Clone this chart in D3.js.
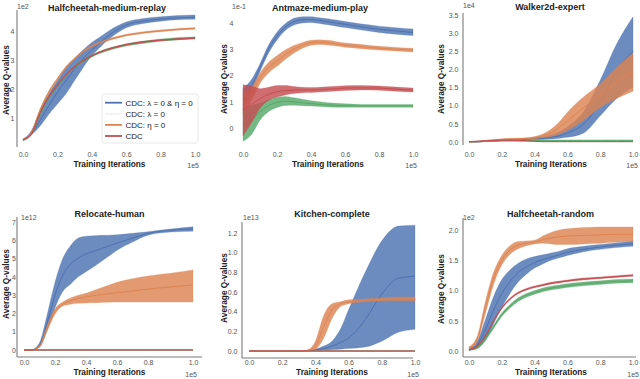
<!DOCTYPE html>
<html><head><meta charset="utf-8">
<script src="https://cdn.jsdelivr.net/npm/d3@7"></script>
<style>body{margin:0;background:#fff} svg{display:block} text{font-family:"Liberation Sans",Arial,Helvetica,sans-serif}</style>
</head><body><svg id="c" width="640" height="379"></svg>
<script>
// ---------------- DATA ----------------
const titles = ["Halfcheetah-medium-replay","Antmaze-medium-play","Walker2d-expert","Relocate-human","Kitchen-complete","Halfcheetah-random"];
const seriesNames = ["CDC: λ = 0 & η = 0","CDC: λ = 0","CDC: η = 0","CDC"];
const offsetLabels = ["1e2","1e-1","1e4","1e12","1e13","1e2"];
const xExpLabel = "1e5";
const xLabel = "Training Iterations";
const yLabel = "Average Q-values";
const xTicks = [0,0.2,0.4,0.6,0.8,1.0];
const yTicks1 = [1,2,3,4];
const yTicks2 = [0,1,2,3,4];
const yTicks3 = [0,0.5,1,1.5,2,2.5,3,3.5];
const yTicks4 = [0,1,2,3,4,5,6,7];
const yTicks5 = [0,0.2,0.4,0.6,0.8,1.0,1.2];
const yTicks6 = [0,0.5,1,1.5,2];

const xs = [0,0.05,0.1,0.15,0.2,0.25,0.3,0.35,0.4,0.45,0.5,0.55,0.6,0.7,0.8,0.9,1.0];

// Panel 1: Halfcheetah-medium-replay (x1e2)
const p1BlueMean = [0.28,0.5,0.95,1.45,1.9,2.3,2.7,3.05,3.35,3.6,3.85,4.05,4.2,4.33,4.4,4.44,4.46];
const p1BlueLo   = [0.25,0.45,0.75,1.15,1.5,1.85,2.3,2.75,3.15,3.45,3.72,3.93,4.1,4.25,4.33,4.38,4.39];
const p1BlueHi   = [0.31,0.6,1.3,1.85,2.3,2.75,3.05,3.35,3.6,3.8,4.0,4.17,4.3,4.42,4.48,4.52,4.54];
const p1GreenMean= [0.27,0.48,1.15,1.72,2.13,2.48,2.77,2.97,3.14,3.27,3.37,3.45,3.52,3.61,3.68,3.73,3.76];
const p1GreenLo  = [0.25,0.45,1.11,1.68,2.09,2.44,2.73,2.93,3.1,3.23,3.33,3.41,3.48,3.57,3.64,3.69,3.72];
const p1GreenHi  = [0.29,0.51,1.19,1.76,2.17,2.52,2.81,3.01,3.18,3.31,3.41,3.49,3.56,3.65,3.72,3.77,3.8];
const p1OrangeMean=[0.28,0.55,1.3,1.9,2.35,2.75,3.05,3.3,3.48,3.6,3.7,3.78,3.85,3.94,4.0,4.05,4.08];
const p1OrangeLo = [0.26,0.52,1.25,1.85,2.31,2.71,3.02,3.27,3.45,3.57,3.67,3.75,3.82,3.91,3.97,4.02,4.05];
const p1OrangeHi = [0.3,0.58,1.35,1.95,2.39,2.79,3.08,3.33,3.51,3.63,3.73,3.81,3.88,3.97,4.03,4.08,4.11];
const p1RedMean  = [0.28,0.5,1.2,1.75,2.15,2.5,2.78,2.98,3.15,3.28,3.38,3.46,3.53,3.62,3.68,3.72,3.75];
const p1RedLo    = [0.27,0.48,1.17,1.72,2.12,2.48,2.76,2.96,3.13,3.26,3.36,3.44,3.51,3.6,3.66,3.7,3.73];
const p1RedHi    = [0.29,0.52,1.23,1.78,2.18,2.52,2.8,3.0,3.17,3.3,3.4,3.48,3.55,3.64,3.7,3.74,3.77];

// Panel 2: Antmaze-medium-play (x1e-1)
const p2BlueMean = [1.1,1.6,2.3,3.0,3.5,3.85,4.05,4.12,4.13,4.1,4.05,4.0,3.95,3.85,3.76,3.7,3.64];
const p2BlueLo   = [0.7,1.35,2.15,2.85,3.35,3.72,3.92,4.0,4.02,3.98,3.93,3.88,3.83,3.73,3.64,3.57,3.52];
const p2BlueHi   = [1.5,1.85,2.45,3.15,3.65,3.98,4.18,4.24,4.24,4.2,4.16,4.11,4.06,3.96,3.88,3.82,3.77];
const p2GreenMean= [0.12,0.3,0.62,0.85,0.98,1.02,1.0,0.96,0.93,0.9,0.88,0.86,0.85,0.84,0.84,0.84,0.84];
const p2GreenLo  = [-0.5,-0.25,0.3,0.62,0.78,0.86,0.87,0.85,0.84,0.82,0.8,0.79,0.79,0.79,0.79,0.79,0.79];
const p2GreenHi  = [0.75,0.85,0.95,1.08,1.17,1.2,1.15,1.1,1.04,1.0,0.96,0.94,0.92,0.9,0.9,0.9,0.9];
const p2OrangeMean=[0.95,1.3,1.9,2.3,2.55,2.8,3.0,3.15,3.25,3.27,3.25,3.2,3.16,3.1,3.04,3.0,2.97];
const p2OrangeLo = [0.55,1.05,1.7,2.1,2.35,2.62,2.86,3.04,3.15,3.18,3.16,3.12,3.08,3.02,2.97,2.93,2.9];
const p2OrangeHi = [1.35,1.55,2.1,2.5,2.75,2.98,3.14,3.26,3.34,3.36,3.34,3.29,3.24,3.18,3.11,3.07,3.04];
const p2RedMean  = [0.7,0.9,1.12,1.28,1.38,1.42,1.44,1.45,1.45,1.46,1.48,1.5,1.52,1.53,1.52,1.48,1.44];
const p2RedLo    = [-0.3,0.2,0.75,1.05,1.18,1.26,1.31,1.34,1.35,1.37,1.39,1.41,1.43,1.45,1.44,1.4,1.37];
const p2RedHi    = [1.65,1.6,1.5,1.55,1.62,1.62,1.58,1.55,1.54,1.55,1.57,1.59,1.61,1.62,1.6,1.56,1.52];

// Panel 3: Walker2d-expert (x1e4)
const p3BlueMean = [0,0,0.02,0.03,0.05,0.06,0.07,0.08,0.09,0.1,0.13,0.17,0.25,0.5,1.1,1.95,2.5];
const p3BlueLo   = [0,0,0.01,0.02,0.03,0.04,0.05,0.06,0.06,0.07,0.08,0.1,0.13,0.25,0.72,1.2,1.5];
const p3BlueHi   = [0.01,0.02,0.04,0.05,0.07,0.08,0.09,0.1,0.12,0.15,0.2,0.28,0.42,0.85,1.7,2.7,3.45];
const p3GreenMean= [0.01,0.01,0.02,0.02,0.03,0.03,0.03,0.035,0.04,0.045,0.045,0.045,0.045,0.045,0.045,0.045,0.045];
const p3GreenLo  = [0.005,0.005,0.015,0.015,0.025,0.025,0.025,0.03,0.035,0.04,0.04,0.04,0.04,0.04,0.04,0.04,0.04];
const p3GreenHi  = [0.015,0.015,0.025,0.025,0.035,0.035,0.035,0.04,0.045,0.05,0.05,0.05,0.05,0.05,0.05,0.05,0.05];
const p3OrangeMean=[0,0.01,0.03,0.05,0.07,0.08,0.09,0.1,0.12,0.17,0.25,0.4,0.58,0.95,1.3,1.65,1.95];
const p3OrangeLo = [0,0,0.02,0.03,0.05,0.06,0.07,0.08,0.09,0.12,0.15,0.22,0.32,0.6,0.95,1.2,1.4];
const p3OrangeHi = [0.01,0.02,0.05,0.07,0.09,0.1,0.11,0.12,0.15,0.22,0.35,0.55,0.82,1.25,1.6,2.05,2.45];
const p3RedMean  = [0.01,0.02,0.03,0.04,0.05,0.05,0.04,0.03,0.02,0.01,0.01,0.01,0.01,0.01,0.01,0.01,0.01];
const p3RedLo    = [0.005,0.015,0.025,0.035,0.045,0.045,0.035,0.025,0.015,0.005,0.005,0.005,0.005,0.005,0.005,0.005,0.005];
const p3RedHi    = [0.015,0.025,0.035,0.045,0.055,0.055,0.045,0.035,0.025,0.015,0.015,0.015,0.015,0.015,0.015,0.015,0.015];

// Panel 4: Relocate-human (x1e12)
const p4BlueMean = [0,0,0.25,1.5,3.0,4.1,4.7,5.02,5.25,5.4,5.55,5.7,5.85,6.12,6.38,6.55,6.62];
const p4BlueLo   = [0,0,0.15,1.1,2.3,3.2,3.6,4.0,4.28,4.55,4.85,5.15,5.45,5.9,6.28,6.45,6.5];
const p4BlueHi   = [0,0.02,0.4,1.95,3.7,5.0,5.7,6.12,6.22,6.25,6.27,6.28,6.3,6.38,6.47,6.62,6.74];
const p4GreenMean= [0,0,0,0,0,0,0,0,0,0,0,0,0,0,0,0,0];
const p4GreenLo  = [0,0,0,0,0,0,0,0,0,0,0,0,0,0,0,0,0];
const p4GreenHi  = [0,0,0,0,0,0,0,0,0,0,0,0,0,0,0,0,0];
const p4OrangeMean=[0,0,0.2,1.2,2.1,2.5,2.7,2.82,2.9,2.97,3.03,3.08,3.13,3.23,3.33,3.45,3.55];
const p4OrangeLo = [0,0,0.15,1.05,1.95,2.4,2.5,2.55,2.57,2.58,2.6,2.61,2.62,2.62,2.62,2.62,2.62];
const p4OrangeHi = [0,0.02,0.25,1.35,2.25,2.62,2.85,3.0,3.1,3.25,3.4,3.55,3.7,3.9,4.05,4.2,4.38];
const p4RedMean  = [0,0,0,0,0,0,0,0,0,0,0,0,0,0,0,0,0];
const p4RedLo    = [0,0,0,0,0,0,0,0,0,0,0,0,0,0,0,0,0];
const p4RedHi    = [0,0,0,0,0,0,0,0,0,0,0,0,0,0,0,0,0];

// Panel 5: Kitchen-complete (x1e13)
const p5BlueMean = [0,0,0,0,0,0,0,0.003,0.01,0.025,0.05,0.085,0.13,0.32,0.58,0.74,0.76];
const p5BlueLo   = [0,0,0,0,0,0,0,0,0.003,0.007,0.012,0.018,0.025,0.04,0.1,0.19,0.22];
const p5BlueHi   = [0,0,0,0,0,0,0,0.006,0.02,0.05,0.1,0.22,0.42,0.8,1.12,1.27,1.28];
const p5GreenMean= [0,0,0,0,0,0,0,0,0,0,0,0,0,0,0,0,0];
const p5GreenLo  = [0,0,0,0,0,0,0,0,0,0,0,0,0,0,0,0,0];
const p5GreenHi  = [0,0,0,0,0,0,0,0,0,0,0,0,0,0,0,0,0];
const p5OrangeMean=[0,0,0,0,0,0,0,0.005,0.05,0.25,0.42,0.48,0.5,0.51,0.52,0.53,0.53];
const p5OrangeLo = [0,0,0,0,0,0,0,0.002,0.02,0.13,0.33,0.45,0.48,0.5,0.51,0.51,0.51];
const p5OrangeHi = [0,0,0,0,0,0,0,0.01,0.1,0.36,0.48,0.5,0.52,0.53,0.54,0.55,0.55];
const p5RedMean  = [0,0,0,0,0,0,0,0,0,0,0,0,0,0,0,0,0];
const p5RedLo    = [0,0,0,0,0,0,0,0,0,0,0,0,0,0,0,0,0];
const p5RedHi    = [0,0,0,0,0,0,0,0,0,0,0,0,0,0,0,0,0];

// Panel 6: Halfcheetah-random (x1e2)
const p6BlueMean = [0.02,0.1,0.35,0.68,0.95,1.15,1.3,1.39,1.46,1.51,1.55,1.59,1.63,1.68,1.72,1.75,1.77];
const p6BlueLo   = [0.01,0.04,0.18,0.45,0.72,0.95,1.14,1.27,1.37,1.44,1.5,1.54,1.58,1.64,1.68,1.71,1.73];
const p6BlueHi   = [0.04,0.16,0.52,0.9,1.18,1.34,1.45,1.52,1.56,1.59,1.62,1.65,1.69,1.73,1.76,1.79,1.82];
const p6GreenMean= [0.02,0.06,0.2,0.4,0.6,0.74,0.85,0.92,0.97,1.01,1.04,1.06,1.08,1.11,1.13,1.15,1.16];
const p6GreenLo  = [0.01,0.04,0.17,0.37,0.57,0.71,0.82,0.89,0.94,0.98,1.01,1.03,1.05,1.08,1.1,1.12,1.13];
const p6GreenHi  = [0.03,0.08,0.23,0.43,0.63,0.77,0.88,0.95,1.0,1.04,1.07,1.09,1.11,1.14,1.16,1.18,1.19];
const p6OrangeMean=[0.05,0.2,0.72,1.2,1.5,1.67,1.75,1.78,1.8,1.84,1.87,1.89,1.9,1.91,1.92,1.93,1.93];
const p6OrangeLo = [0.03,0.16,0.62,1.1,1.42,1.6,1.69,1.74,1.77,1.78,1.77,1.76,1.76,1.77,1.78,1.8,1.81];
const p6OrangeHi = [0.07,0.24,0.82,1.3,1.58,1.74,1.81,1.82,1.83,1.9,1.96,2.0,2.02,2.04,2.05,2.05,2.05];
const p6RedMean  = [0.02,0.08,0.25,0.5,0.71,0.86,0.96,1.02,1.06,1.09,1.12,1.14,1.16,1.19,1.21,1.23,1.25];
const p6RedLo    = [0.01,0.07,0.235,0.485,0.695,0.845,0.945,1.005,1.045,1.075,1.105,1.125,1.145,1.175,1.195,1.215,1.235];
const p6RedHi    = [0.03,0.09,0.265,0.515,0.725,0.875,0.975,1.035,1.075,1.105,1.135,1.155,1.175,1.205,1.225,1.245,1.265];

// ---------------- DRAWING ----------------
const colors = ["#4c72b0","#55a868","#dd8452","#c44e52"];
const legendColors = ["#4c72b0","#eef3ee","#dd8452","#c44e52"];
const svg = d3.select("#c");

function mk(mean, lo, hi){ return xs.map((x,i)=>({x, m:mean[i], lo:lo[i], hi:hi[i]})); }

const panels = [
  { series:[mk(p1BlueMean,p1BlueLo,p1BlueHi), mk(p1GreenMean,p1GreenLo,p1GreenHi), mk(p1OrangeMean,p1OrangeLo,p1OrangeHi), mk(p1RedMean,p1RedLo,p1RedHi)],
    xDom:[0,1], xRng:[23,195], yDom:[0,4], yRng:[148,30.8], yTicks:yTicks1, yFmt:d3.format("d"),
    yLabRight:14.5, xTickY:152.5, spL:[17,10,147], spB:null, off:[17,9], title:[107,11], ylab:[6,80], xlab:[109.5,167], exp:[199,168] },
  { series:[mk(p2BlueMean,p2BlueLo,p2BlueHi), mk(p2GreenMean,p2GreenLo,p2GreenHi), mk(p2OrangeMean,p2OrangeLo,p2OrangeHi), mk(p2RedMean,p2RedLo,p2RedHi)],
    xDom:[0,1], xRng:[243,413], yDom:[0,4], yRng:[128,23], yTicks:yTicks2, yFmt:d3.format("d"),
    yLabRight:233.5, xTickY:152.5, spL:null, spB:null, off:[232,9], title:[320,11], ylab:[224,79], xlab:[328,167], exp:[417,168] },
  { series:[mk(p3BlueMean,p3BlueLo,p3BlueHi), mk(p3GreenMean,p3GreenLo,p3GreenHi), mk(p3OrangeMean,p3OrangeLo,p3OrangeHi), mk(p3RedMean,p3RedLo,p3RedHi)],
    xDom:[0,1], xRng:[469,633], yDom:[0,3.5], yRng:[142,15], yTicks:yTicks3, yFmt:d3.format(".1f"),
    yLabRight:458.5, xTickY:152.5, spL:[463,13,145], spB:null, off:[463,8], title:[550,10], ylab:[441,79], xlab:[551,167], exp:[638,168] },
  { series:[mk(p4BlueMean,p4BlueLo,p4BlueHi), mk(p4GreenMean,p4GreenLo,p4GreenHi), mk(p4OrangeMean,p4OrangeLo,p4OrangeHi), mk(p4RedMean,p4RedLo,p4RedHi)],
    xDom:[0,0.8,1], xRng:[24,148,193], yDom:[0,7], yRng:[350,222], yTicks:yTicks4, yFmt:d3.format("d"),
    yLabRight:16, xTickY:360.5, spL:[17,217,357], spB:[357,17,202], off:[21,220], title:[109.5,216.5], ylab:[6,284], xlab:[109.5,375], exp:[197,377] },
  { series:[mk(p5BlueMean,p5BlueLo,p5BlueHi), mk(p5GreenMean,p5GreenLo,p5GreenHi), mk(p5OrangeMean,p5OrangeLo,p5OrangeHi), mk(p5RedMean,p5RedLo,p5RedHi)],
    xDom:[0,1], xRng:[249,415], yDom:[0,1.2], yRng:[351,233], yTicks:yTicks5, yFmt:d3.format(".1f"),
    yLabRight:237.5, xTickY:360.5, spL:[242,222,358], spB:[358,242,413], off:[243,220], title:[332,216.5], ylab:[224,288], xlab:[332,375], exp:[419,377] },
  { series:[mk(p6BlueMean,p6BlueLo,p6BlueHi), mk(p6GreenMean,p6GreenLo,p6GreenHi), mk(p6OrangeMean,p6OrangeLo,p6OrangeHi), mk(p6RedMean,p6RedLo,p6RedHi)],
    xDom:[0,1], xRng:[469,633], yDom:[0,2], yRng:[351,230], yTicks:yTicks6, yFmt:d3.format(".1f"),
    yLabRight:458.5, xTickY:360.5, spL:[463,218,357], spB:[357,463,636], off:[463,220], title:[550.5,216.5], ylab:[441,289], xlab:[551,375], exp:[639,377] }
];

panels.forEach((p, pi) => {
  const g = svg.append("g");
  const x = d3.scaleLinear().domain(p.xDom).range(p.xRng);
  const y = d3.scaleLinear().domain(p.yDom).range(p.yRng);

  // spines
  if (p.spL) g.append("line").attr("x1",p.spL[0]).attr("x2",p.spL[0]).attr("y1",p.spL[1]).attr("y2",p.spL[2])
      .attr("stroke","#7a7a7a").attr("stroke-width",1.1);
  if (p.spB) g.append("line").attr("y1",p.spB[0]).attr("y2",p.spB[0]).attr("x1",p.spB[1]).attr("x2",p.spB[2])
      .attr("stroke","#7a7a7a").attr("stroke-width",1.1);

  // bands + mean lines
  const area = d3.area().x(d=>x(d.x)).y0(d=>y(d.lo)).y1(d=>y(d.hi)).curve(d3.curveMonotoneX);
  const line = d3.line().x(d=>x(d.x)).y(d=>y(d.m)).curve(d3.curveMonotoneX);
  p.series.forEach((s, si) => {
    g.append("path").attr("d", area(s)).attr("fill", colors[si]).attr("fill-opacity", 0.82)
      .attr("stroke", colors[si]).attr("stroke-opacity", 0.5).attr("stroke-width", 0.5);
    g.append("path").attr("d", line(s)).attr("fill","none").attr("stroke", colors[si]).attr("stroke-width", 1);
  });

  // y axis
  const ya = d3.axisLeft(y).tickValues(p.yTicks).tickFormat(p.yFmt).tickSize(0).tickPadding(0);
  const yg = g.append("g").attr("transform",`translate(${p.yLabRight},0)`).call(ya);
  yg.select(".domain").remove();
  yg.selectAll("text").attr("font-size",7).attr("fill","#555").attr("font-family","Liberation Sans, Arial, sans-serif");

  // x axis
  const xa = d3.axisBottom(x).tickValues(xTicks).tickFormat(d3.format(".1f")).tickSize(0).tickPadding(0);
  const xg = g.append("g").attr("transform",`translate(0,${p.xTickY})`).call(xa);
  xg.select(".domain").remove();
  xg.selectAll("text").attr("font-size",7).attr("fill","#555").attr("font-family","Liberation Sans, Arial, sans-serif");

  // offset text (y)
  g.append("text").attr("x",p.off[0]).attr("y",p.off[1]).attr("font-size",7).attr("fill","#555").text(offsetLabels[pi]);
  // exponent (x)
  g.append("text").attr("x",p.exp[0]).attr("y",p.exp[1]).attr("text-anchor","end").attr("font-size",7).attr("fill","#555").text(xExpLabel);

  // title
  g.append("text").attr("x",p.title[0]).attr("y",p.title[1]).attr("text-anchor","middle")
    .attr("font-size",9).attr("font-weight","bold").attr("fill","#222").text(titles[pi]);
  // axis labels
  g.append("text").attr("x",p.xlab[0]).attr("y",p.xlab[1]).attr("text-anchor","middle")
    .attr("font-size",8.3).attr("font-weight","bold").attr("fill","#222").text(xLabel);
  g.append("text").attr("transform",`translate(${p.ylab[0]},${p.ylab[1]}) rotate(-90)`).attr("text-anchor","middle")
    .attr("dominant-baseline","central").attr("font-size",8.3).attr("font-weight","bold").attr("fill","#222").text(yLabel);
});

// legend in first panel
const lg = svg.append("g");
lg.append("rect").attr("x",102).attr("y",94).attr("width",96).attr("height",49).attr("rx",2)
  .attr("fill","#fff").attr("fill-opacity",0.85).attr("stroke","#e2e2e2").attr("stroke-width",0.8);
seriesNames.forEach((n,i)=>{
  const cy = 102.7 + i*11.1;
  lg.append("line").attr("x1",105).attr("x2",122).attr("y1",cy).attr("y2",cy).attr("stroke",legendColors[i]).attr("stroke-width",1.8);
  lg.append("text").attr("x",125.5).attr("y",cy+2.8).attr("font-size",8).attr("fill","#222").text(n);
});
</script></body></html>
